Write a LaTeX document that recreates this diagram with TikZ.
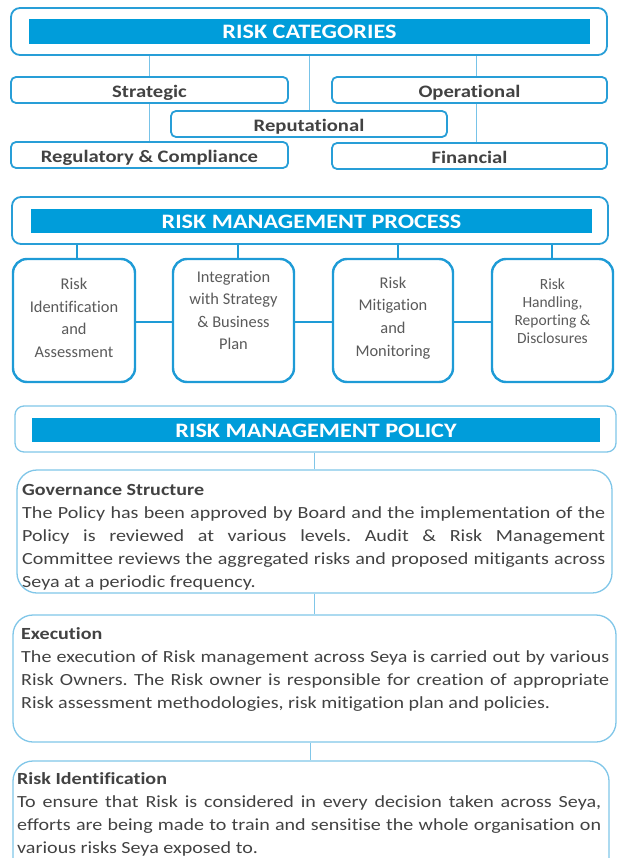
\documentclass[tikz,border=0pt]{standalone}
\usepackage{fontspec}
\setmainfont[Ligatures=NoCommon]{Carlito}
\newfontfamily\wide[FakeStretch=1.18,Ligatures=NoCommon]{Carlito}
\definecolor{barblue}{RGB}{0,157,218}
\definecolor{cblue}{RGB}{40,158,215}
\definecolor{pblue}{RGB}{30,155,214}
\definecolor{lblue}{RGB}{128,198,232}
\definecolor{lineblue}{RGB}{120,195,232}
\definecolor{tgray}{RGB}{66,66,66}
\definecolor{pgray}{RGB}{90,90,90}
\frenchspacing
\begin{document}
\begin{tikzpicture}[x=1pt,y=-1pt,
  hdrbox/.style={draw=cblue, line width=1.8pt, rounded corners=9pt, inner sep=0pt},
  barbox/.style={fill=barblue, inner sep=0pt, text height=15pt, text depth=0pt, text=white, font=\wide\bfseries\fontsize{20.5}{24}\selectfont},
  catbox/.style={draw=cblue, line width=1.8pt, rounded corners=5pt, minimum height=26pt, inner sep=0pt, text height=15pt, text depth=0pt, text=tgray, font=\wide\bfseries\fontsize{17.5}{20}\selectfont},
  procbox/.style={draw=pblue, line width=2.4pt, rounded corners=14pt, minimum height=123pt, inner sep=0pt},
  proctext/.style={align=center, text=pgray, inner sep=0pt},
  polbox/.style={draw=lblue, line width=1.3pt, rounded corners=20pt, inner sep=0pt},
  polhdr/.style={draw=lblue, line width=1.3pt, rounded corners=9pt, inner sep=0pt},
  poltext/.style={anchor=north west, align=justify, inner sep=0pt, text=tgray, font=\wide\fontsize{17}{23}\selectfont},
  catline/.style={draw=lineblue, line width=1pt},
  procline/.style={draw=pblue, line width=2pt},
  polline/.style={draw=lblue, line width=1pt}
]
\useasboundingbox (0,0) rectangle (617,858);
\clip (0,0) rectangle (617,858);

% ---------- Risk categories ----------
\node[hdrbox, minimum width=596pt, minimum height=47pt] (cat) at (309,31.5) {};
\node[barbox, minimum width=561pt, minimum height=25pt] (catbar) at (309.5,31.5) {RISK CATEGORIES};
\node[catbox, minimum width=277pt] (strat) at (149.5,90) {Strategic};
\node[catbox, minimum width=275pt] (oper) at (469.5,90) {Operational};
\node[catbox, minimum width=276pt] (rep) at (309,124) {Reputational};
\node[catbox, minimum width=277pt] (reg) at (149.5,155) {Regulatory \& Compliance};
\node[catbox, minimum width=275pt] (fin) at (469.5,156) {Financial};

\coordinate (cL) at (149,0);
\coordinate (cM) at (309,0);
\coordinate (cR) at (476,0);
\draw[catline] (cat.south -| cL) -- (strat.north -| cL);
\draw[catline] (strat.south -| cL) -- (reg.north -| cL);
\draw[catline] (cat.south -| cM) -- (rep.north -| cM);
\draw[catline] (cat.south -| cR) -- (oper.north -| cR);
\draw[catline] (oper.south -| cR) -- (fin.north -| cR);

% ---------- Risk management process ----------
\node[hdrbox, minimum width=596pt, minimum height=47pt] (proc) at (310,220.5) {};
\node[barbox, minimum width=561pt, minimum height=24pt] (procbar) at (311.5,221) {RISK MANAGEMENT PROCESS};

\node[procbox, minimum width=122pt] (b1) at (74,320.5) {};
\node[procbox, minimum width=121pt] (b2) at (233.5,320.5) {};
\node[procbox, minimum width=120pt] (b3) at (393,320.5) {};
\node[procbox, minimum width=121pt] (b4) at (552.5,320.5) {};

\node[proctext, font=\fontsize{16.4}{22.7}\selectfont] (t1) at (74,318) {Risk\\Identification\\and\\Assessment};
\node[proctext, font=\fontsize{16.4}{22.5}\selectfont] (t2) at (233.5,310.5) {Integration\\with Strategy\\\& Business\\Plan};
\node[proctext, font=\fontsize{16.4}{22.7}\selectfont] (t3) at (393,318) {Risk\\Mitigation\\and\\Monitoring};
\node[proctext, font=\fontsize{15.5}{18}\selectfont] (t4) at (552.5,311) {Risk\\Handling,\\Reporting \&\\Disclosures};

\coordinate (p1) at (77,0);
\coordinate (p2) at (238,0);
\coordinate (p3) at (398,0);
\coordinate (p4) at (552,0);
\draw[procline] (proc.south -| p1) -- (b1.north -| p1);
\draw[procline] (proc.south -| p2) -- (b2.north -| p2);
\draw[procline] (proc.south -| p3) -- (b3.north -| p3);
\draw[procline] (proc.south -| p4) -- (b4.north -| p4);
\coordinate (hy) at (0,322);
\draw[procline] (b1.east |- hy) -- (b2.west |- hy);
\draw[procline] (b2.east |- hy) -- (b3.west |- hy);
\draw[procline] (b3.east |- hy) -- (b4.west |- hy);

% ---------- Risk management policy ----------
\node[polhdr, minimum width=601pt, minimum height=46pt] (pol) at (315.5,429) {};
\node[barbox, minimum width=568pt, minimum height=24pt] (polbar) at (316,429.5) {RISK MANAGEMENT POLICY};

\node[polbox, minimum width=595pt, minimum height=123pt] (gov) at (314.5,531.5) {};
\node[polbox, minimum width=603pt, minimum height=127pt] (exe) at (314.5,678.5) {};
\node[polbox, minimum width=596pt, minimum height=130pt] (rid) at (311,826) {};

\node[poltext, text width=583pt] (govt) at (22,484) {{\bfseries Governance Structure}\\
The Policy has been approved by Board and the implementation of the\linebreak
Policy is reviewed at various levels. Audit \& Risk Management\linebreak
Committee reviews the aggregated risks and proposed mitigants across\linebreak
Seya at a periodic frequency.};

\node[poltext, text width=588pt] (exet) at (21,627) {{\bfseries Execution}\\
The execution of Risk management across Seya is carried out by various\linebreak
Risk Owners. The Risk owner is responsible for creation of appropriate\linebreak
Risk assessment methodologies, risk mitigation plan and policies.};

\node[poltext, text width=584pt] (ridt) at (17,772) {{\bfseries Risk Identification}\\
To ensure that Risk is considered in every decision taken across Seya,\linebreak
efforts are being made to train and sensitise the whole organisation on\linebreak
various risks Seya exposed to.};

\coordinate (q1) at (314,0);
\coordinate (q2) at (310,0);
\draw[polline] (pol.south -| q1) -- (gov.north -| q1);
\draw[polline] (gov.south -| q1) -- (exe.north -| q1);
\draw[polline] (exe.south -| q2) -- (rid.north -| q2);
\end{tikzpicture}
\end{document}
